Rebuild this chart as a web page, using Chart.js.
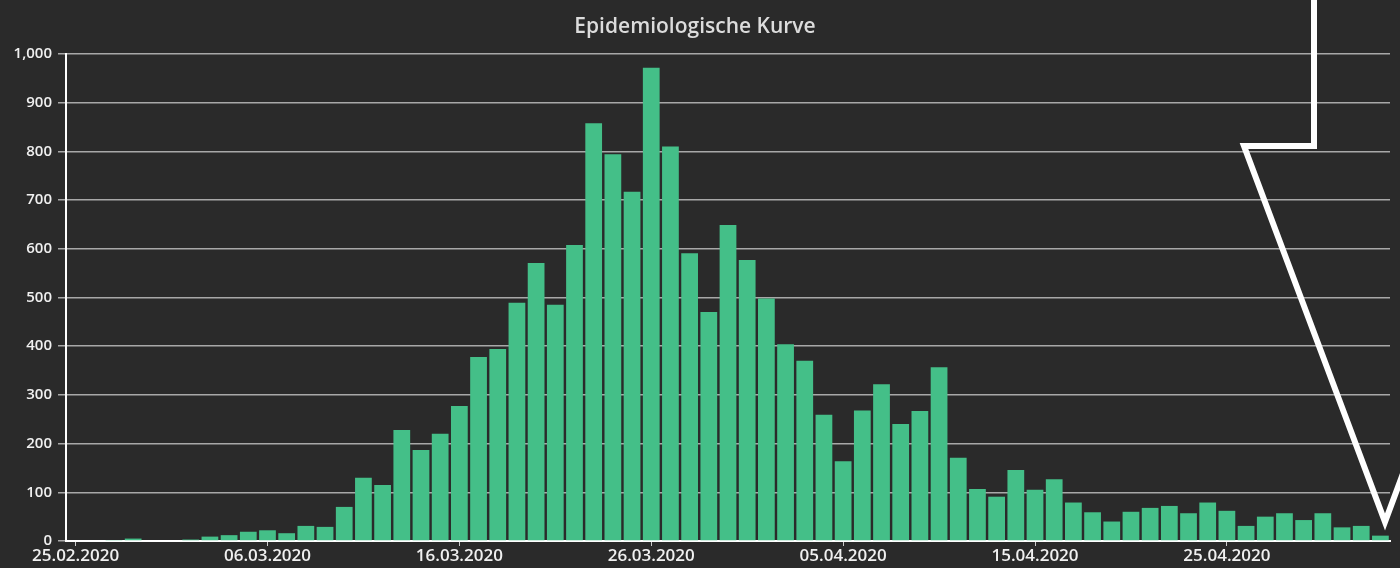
<!DOCTYPE html>
<html>
<head>
<meta charset="utf-8">
<script src="https://cdn.jsdelivr.net/npm/chart.js@4.4.1/dist/chart.umd.min.js"></script>
<style>
  html, body { margin: 0; padding: 0; background: #2a2a2a; }
  #wrap { width: 1400px; height: 568px; }
</style>
</head>
<body>
<div id="wrap"><canvas id="epiChart"></canvas></div>
<script>
const days = [
  '25.02.2020', '26.02.2020', '27.02.2020', '28.02.2020', '29.02.2020',
  '01.03.2020', '02.03.2020', '03.03.2020', '04.03.2020', '05.03.2020',
  '06.03.2020', '07.03.2020', '08.03.2020', '09.03.2020', '10.03.2020',
  '11.03.2020', '12.03.2020', '13.03.2020', '14.03.2020', '15.03.2020',
  '16.03.2020', '17.03.2020', '18.03.2020', '19.03.2020', '20.03.2020',
  '21.03.2020', '22.03.2020', '23.03.2020', '24.03.2020', '25.03.2020',
  '26.03.2020', '27.03.2020', '28.03.2020', '29.03.2020', '30.03.2020',
  '31.03.2020', '01.04.2020', '02.04.2020', '03.04.2020', '04.04.2020',
  '05.04.2020', '06.04.2020', '07.04.2020', '08.04.2020', '09.04.2020',
  '10.04.2020', '11.04.2020', '12.04.2020', '13.04.2020', '14.04.2020',
  '15.04.2020', '16.04.2020', '17.04.2020', '18.04.2020', '19.04.2020',
  '20.04.2020', '21.04.2020', '22.04.2020', '23.04.2020', '24.04.2020',
  '25.04.2020', '26.04.2020', '27.04.2020', '28.04.2020', '29.04.2020',
  '30.04.2020', '01.05.2020', '02.05.2020', '03.05.2020'
];

const cases = [
  0, 0, 2, 5, 0, 0, 3, 9, 12, 19,
  22, 16, 31, 29, 70, 130, 115, 228, 187, 220,
  277, 378, 394, 489, 571, 485, 608, 858, 794, 717,
  972, 810, 591, 470, 649, 577, 498, 404, 370, 259,
  164, 268, 322, 240, 267, 357, 171, 107, 91, 146,
  105, 127, 79, 59, 40, 60, 68, 72, 57, 79,
  62, 31, 50, 57, 43, 57, 28, 31, 11
];

const yTicks = [0, 100, 200, 300, 400, 500, 600, 700, 800, 900, 1000];

// hand-drawn white arrow over the chart (annotation in the screenshot)
const arrowPlugin = {
  id: 'arrow',
  afterDraw(chart) {
    const c = chart.ctx;
    c.save();
    c.strokeStyle = '#ffffff';
    c.lineWidth = 6;
    c.lineJoin = 'miter';
    c.beginPath();
    c.moveTo(1314, -5);
    c.lineTo(1314, 146);
    c.lineTo(1244, 146);
    c.lineTo(1385, 522);
    c.lineTo(1408, 460);
    c.stroke();
    c.restore();
  }
};

const bgPlugin = {
  id: 'bg',
  beforeDraw(chart) {
    const c = chart.ctx;
    c.save();
    c.fillStyle = '#2a2a2a';
    c.fillRect(0, 0, chart.width, chart.height);
    c.restore();
  }
};

const ctx = document.getElementById('epiChart').getContext('2d');
new Chart(ctx, {
  type: 'bar',
  data: {
    labels: days,
    datasets: [{
      label: 'Fälle',
      data: cases,
      backgroundColor: '#44bf88',
      borderWidth: 0,
      categoryPercentage: 0.9,
      barPercentage: 0.97
    }]
  },
  options: {
    responsive: true,
    maintainAspectRatio: false,
    animation: false,
    layout: { padding: { left: 0, right: 10, top: 0, bottom: 0 } },
    plugins: {
      legend: { display: false },
      tooltip: { enabled: false },
      title: {
        display: true,
        text: 'Epidemiologische Kurve',
        color: '#dcdcdc',
        font: { family: 'Open Sans', size: 21, weight: '600', lineHeight: 1.2 },
        padding: { top: 14, bottom: 14.8 }
      }
    },
    scales: {
      x: {
        offset: true,
        grid: {
          offset: false,
          drawOnChartArea: false,
          drawTicks: true,
          tickLength: 5,
          color: c => (c.index % 10 === 0 ? '#cccccc' : 'rgba(0,0,0,0)')
        },
        border: { display: true, color: '#ffffff', width: 2 },
        ticks: {
          autoSkip: false,
          maxRotation: 0,
          padding: 0,
          color: '#f0f0f0',
          font: { family: 'Open Sans', size: 17, weight: '600' },
          callback: (v, i) => (i % 10 === 0 ? days[i] : '')
        },
        afterFit: s => { s.height = 27; }
      },
      y: {
        min: 0,
        max: 1000,
        afterBuildTicks: s => { s.ticks = yTicks.map(v => ({ value: v })); },
        grid: {
          color: 'rgba(190,190,190,0.85)',
          lineWidth: 1.5,
          tickLength: 8
        },
        border: { display: true, color: '#ffffff', width: 2 },
        ticks: {
          color: '#f0f0f0',
          padding: 6,
          font: { family: 'Open Sans', size: 15, weight: '600' }
        },
        afterFit: s => { s.width = 66; }
      }
    }
  },
  plugins: [bgPlugin, arrowPlugin]
});
</script>
</body>
</html>
